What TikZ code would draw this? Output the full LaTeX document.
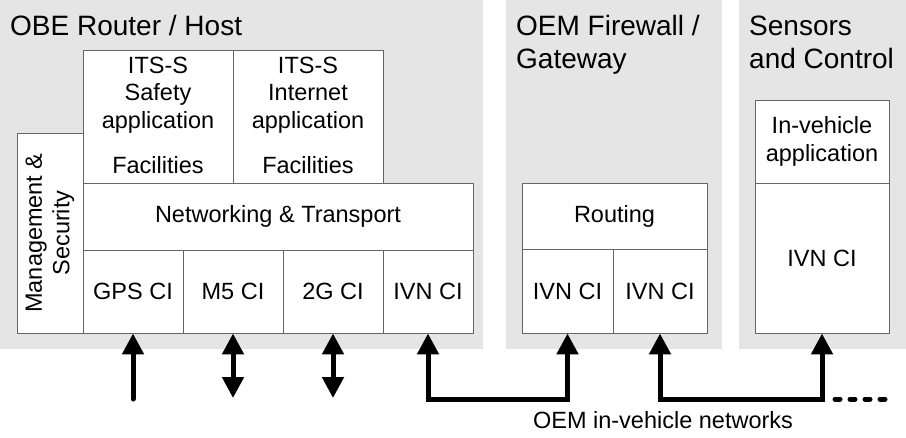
\documentclass[tikz,border=0pt]{standalone}
\usepackage{fontspec}
\setmainfont{Liberation Sans}
\usetikzlibrary{arrows.meta}
\definecolor{panelgray}{HTML}{E5E5E5}
\definecolor{boxline}{HTML}{666666}
\tikzset{
  panel/.style={fill=panelgray, draw=none, inner sep=0pt, minimum height=349pt},
  blk/.style={fill=white, draw=boxline, line width=0.9pt, inner sep=0pt, font=\fontsize{23.5}{27.5}\selectfont, align=center},
  txt/.style={inner sep=0pt, font=\fontsize{23.5}{27.5}\selectfont, align=center},
  ttl/.style={inner sep=0pt, anchor=base west, font=\fontsize{28}{33}\selectfont, align=left},
  conn/.style={line width=5pt, line cap=round, line join=miter},
  bigtip/.tip={Triangle[width=21pt,length=21pt]}
}
\begin{document}
\begin{tikzpicture}[x=1pt,y=-1pt]
\useasboundingbox (0,0) rectangle (906,437);
% panels
\node[panel, minimum width=483pt] (p1) at (241.5,174.5) {};
\node[panel, minimum width=216pt] (p2) at (614,174.5) {};
\node[panel, minimum width=167pt] (p3) at (822.5,174.5) {};
% titles
\node[ttl] (t1) at (10,35) {OBE Router / Host};
\node[ttl] (t2a) at (516,35) {OEM Firewall /};
\node[ttl] (t2b) at (516,68) {Gateway};
\node[ttl] (t3a) at (749,35) {Sensors};
\node[ttl] (t3b) at (749,68) {and Control};
% OBE blocks
\node[blk, minimum width=66pt, minimum height=200pt] (mgmt) at (50,233) {};
\node[txt, rotate=90] (mgmtt) at (mgmt.center) {Management \&\\Security};
\node[blk, minimum width=150pt, minimum height=133pt] (safe) at (158,116.5) {};
\node[blk, minimum width=150pt, minimum height=133pt] (inet) at (308,116.5) {};
\node[txt, anchor=base] (safet) at (158,73) {ITS-S};
\node[txt, anchor=base] (safet2) at (158,100.5) {Safety};
\node[txt, anchor=base] (safet3) at (158,128) {application};
\node[txt, anchor=base] (inett) at (308,73) {ITS-S};
\node[txt, anchor=base] (inett2) at (308,100.5) {Internet};
\node[txt, anchor=base] (inett3) at (308,128) {application};
\node[txt, anchor=base] (safef) at (158,173) {Facilities};
\node[txt, anchor=base] (inetf) at (308,173) {Facilities};
\node[blk, minimum width=390pt, minimum height=67pt] (net) at (278,216.5) {Networking \& Transport};
\node[blk, minimum width=100pt, minimum height=83pt] (gps) at (133,291.5) {GPS CI};
\node[blk, minimum width=100pt, minimum height=83pt] (m5) at (233,291.5) {M5 CI};
\node[blk, minimum width=100pt, minimum height=83pt] (g2) at (333,291.5) {2G CI};
\node[blk, minimum width=90pt, minimum height=83pt] (ivn) at (428,291.5) {IVN CI};
% gateway blocks
\node[blk, minimum width=185pt, minimum height=66pt] (rout) at (614.5,216) {Routing};
\node[blk, minimum width=91pt, minimum height=84pt] (gwa) at (567.5,291) {IVN CI};
\node[blk, minimum width=94pt, minimum height=84pt] (gwb) at (660,291) {IVN CI};
% sensors blocks
\node[blk, minimum width=134pt, minimum height=83pt] (app) at (822,141.5) {};
\node[txt, anchor=base] (appt1) at (822,133) {In-vehicle};
\node[txt, anchor=base] (appt2) at (822,161.5) {application};
\node[blk, minimum width=134pt, minimum height=150pt] (sivn) at (822,258) {IVN CI};
% connectors
\coordinate (g0) at (133,399);
\coordinate (m0) at (233,398);
\coordinate (c0) at (333,398);
\coordinate (bus1) at (500,399);
\coordinate (bus2) at (740,399);
\coordinate (dstart) at (835,399);
\coordinate (dend) at (885,399);
\draw[conn, -{bigtip}] (g0) -- (gps.south);
\draw[conn, {bigtip}-{bigtip}] (m0) -- (m5.south);
\draw[conn, {bigtip}-{bigtip}] (c0) -- (g2.south);
\draw[conn, {bigtip}-{bigtip}] (ivn.south) |- (bus1) -| (gwa.south);
\draw[conn, {bigtip}-{bigtip}] (gwb.south) |- (bus2) -| (sivn.south);
\draw[conn, dash pattern=on 5pt off 10pt] (dstart) -- (dend);
\node[txt, anchor=base] (lbl) at (663,428) {OEM in-vehicle networks};
\end{tikzpicture}
\end{document}
